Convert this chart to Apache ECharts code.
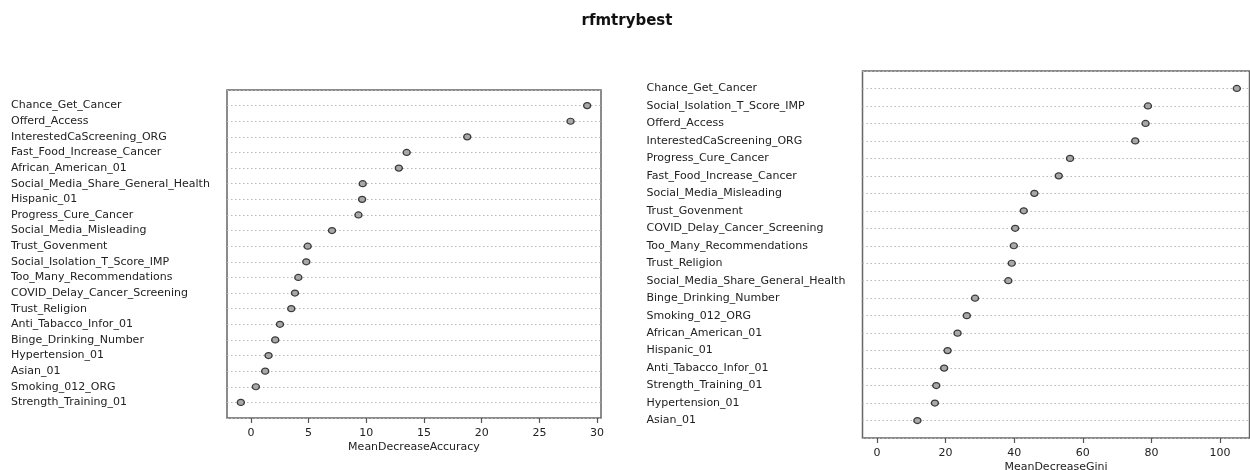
<!DOCTYPE html>
<html>
<head>
<meta charset="utf-8">
<title>rfmtrybest</title>
<script src="https://cdn.jsdelivr.net/npm/echarts@6/dist/echarts.min.js"></script>
<style>
  html, body { margin: 0; padding: 0; background: #fff; }
  #chart { width: 1250px; height: 470px; }
</style>
</head>
<body>
<div id="chart"></div>
<script>
// Variable importance from the random forest, one panel per measure (top to bottom).
const accuracyNames = [
  'Chance_Get_Cancer', 'Offerd_Access', 'InterestedCaScreening_ORG', 'Fast_Food_Increase_Cancer',
  'African_American_01', 'Social_Media_Share_General_Health', 'Hispanic_01', 'Progress_Cure_Cancer',
  'Social_Media_Misleading', 'Trust_Govenment', 'Social_Isolation_T_Score_IMP', 'Too_Many_Recommendations',
  'COVID_Delay_Cancer_Screening', 'Trust_Religion', 'Anti_Tabacco_Infor_01', 'Binge_Drinking_Number',
  'Hypertension_01', 'Asian_01', 'Smoking_012_ORG', 'Strength_Training_01'
];
const accuracyValues = [
  29.14, 27.70, 18.75, 13.50, 12.82, 9.69, 9.64, 9.32, 7.03, 4.92,
  4.80, 4.11, 3.82, 3.50, 2.52, 2.11, 1.53, 1.24, 0.43, -0.87
];

const giniNames = [
  'Chance_Get_Cancer', 'Social_Isolation_T_Score_IMP', 'Offerd_Access', 'InterestedCaScreening_ORG',
  'Progress_Cure_Cancer', 'Fast_Food_Increase_Cancer', 'Social_Media_Misleading', 'Trust_Govenment',
  'COVID_Delay_Cancer_Screening', 'Too_Many_Recommendations', 'Trust_Religion', 'Social_Media_Share_General_Health',
  'Binge_Drinking_Number', 'Smoking_012_ORG', 'African_American_01', 'Hispanic_01',
  'Anti_Tabacco_Infor_01', 'Strength_Training_01', 'Hypertension_01', 'Asian_01'
];
const giniValues = [
  104.9, 79.0, 78.3, 75.3, 56.3, 53.0, 45.9, 42.8, 40.3, 39.9,
  39.3, 38.3, 28.6, 26.2, 23.5, 20.6, 19.6, 17.3, 16.9, 11.8
];

const accuracyTicks = [0, 5, 10, 15, 20, 25, 30];
const giniTicks = [0, 20, 40, 60, 80, 100];

const chartTitle = 'rfmtrybest';
const accuracyAxisName = 'MeanDecreaseAccuracy';
const giniAxisName = 'MeanDecreaseGini';

const FONT = 'DejaVu Sans';
const TEXT = '#222';

function rowAxis(gridIndex, names) {
  return {
    type: 'value', gridIndex, inverse: true, min: -1, max: names.length, interval: 1,
    axisLine: { show: false, onZero: false }, axisTick: { show: false },
    axisLabel: {
      align: 'left', margin: 216, color: TEXT, fontFamily: FONT, fontSize: 11,
      formatter: v => (v >= 0 && v < names.length ? names[v] : '')
    },
    splitLine: { show: true, lineStyle: { color: '#b8b8b8', type: [1.5, 2.5], width: 1 } }
  };
}

function valueAxis(gridIndex, min, max, ticks, name, nameGap) {
  return {
    type: 'value', gridIndex, min, max, name, position: 'bottom',
    nameLocation: 'middle', nameGap, nameMoveOverlap: false,
    nameTextStyle: { color: TEXT, fontFamily: FONT, fontSize: 11 },
    axisLine: { show: false, onZero: false },
    axisTick: { show: true, inside: false, length: 5, customValues: ticks, lineStyle: { color: '#555', width: 1.2 } },
    axisLabel: { customValues: ticks, margin: 10, color: TEXT, fontFamily: FONT, fontSize: 11 },
    splitLine: { show: false }
  };
}

function dots(xAxisIndex, values) {
  return {
    type: 'scatter', xAxisIndex, yAxisIndex: xAxisIndex,
    symbol: 'circle', symbolSize: [7, 6],
    itemStyle: { color: '#a8a8a8', borderColor: '#3a3a3a', borderWidth: 1.3, opacity: 1 },
    data: values.map((v, i) => [v, i]),
    silent: true
  };
}

const panelGrid = {
  show: true, borderColor: '#666', borderWidth: 1.5, backgroundColor: 'transparent',
  containLabel: false, outerBoundsMode: 'none'
};

const chart = echarts.init(document.getElementById('chart'), null, { renderer: 'canvas' });
chart.setOption({
  backgroundColor: '#fff',
  animation: false,
  title: {
    text: chartTitle, left: 622, top: 9, textAlign: 'center',
    textStyle: { fontFamily: FONT, fontSize: 15, fontWeight: 'bold', color: '#111' }
  },
  grid: [
    Object.assign({ left: 227, top: 90, width: 374, height: 328 }, panelGrid),
    Object.assign({ left: 862.5, top: 71, width: 387, height: 367 }, panelGrid)
  ],
  xAxis: [
    valueAxis(0, -2.07, 30.34, accuracyTicks, accuracyAxisName, 24),
    valueAxis(1, -4.2, 108.6, giniTicks, giniAxisName, 24)
  ],
  yAxis: [
    rowAxis(0, accuracyNames),
    rowAxis(1, giniNames)
  ],
  series: [
    dots(0, accuracyValues),
    dots(1, giniValues)
  ]
});
</script>
</body>
</html>
